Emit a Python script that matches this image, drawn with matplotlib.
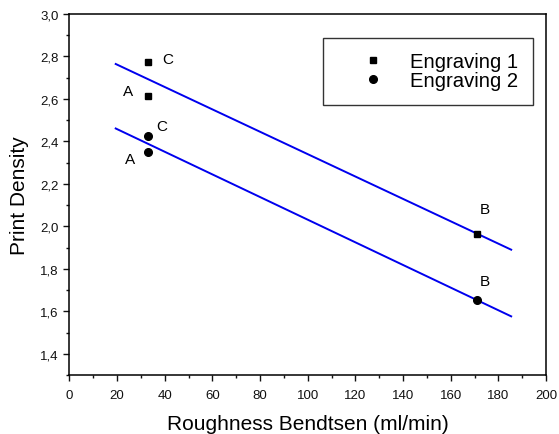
import numpy as np
import matplotlib
matplotlib.use("Agg")
import matplotlib.pyplot as plt
from matplotlib.ticker import MultipleLocator, FuncFormatter

plt.rcParams['font.family'] = ['Liberation Sans', 'DejaVu Sans']

# Data
roughness = [33, 33, 171]
labels = ["C", "A", "B"]
engraving1 = [2.773, 2.613, 1.966]
engraving2 = [2.427, 2.350, 1.653]
fit_range = [19.4, 185.4]
series_names = ["Engraving 1", "Engraving 2"]

fig = plt.figure(figsize=(5.59, 4.35), dpi=100)
ax = fig.add_axes([0.1243, 0.1356, 0.8524, 0.8299])

x = np.array(roughness, dtype=float)
xf = np.array(fit_range)
for vals in (engraving1, engraving2):
    p = np.polyfit(x, np.array(vals), 1)
    ax.plot(xf, np.polyval(p, xf), color='#0000ee', lw=1.4, zorder=2)

ax.plot(roughness, engraving1, 's', color='black', ms=5, ls='none', label=series_names[0], zorder=3)
ax.plot(roughness, engraving2, 'o', color='black', ms=5.5, ls='none', label=series_names[1], zorder=3)

# annotations (offsets in points)
off1 = {"C": (14.4, 2.2), "A": (-14.4, 3.6), "B": (5.8, 18)}
off2 = {"C": (10, 7.2), "A": (-13, -5), "B": (5.8, 13.7)}
for xi, yi, lab in zip(roughness, engraving1, labels):
    ax.annotate(lab, (xi, yi), xytext=off1[lab], textcoords='offset points',
                ha='center', va='center', fontsize=11)
for xi, yi, lab in zip(roughness, engraving2, labels):
    ax.annotate(lab, (xi, yi), xytext=off2[lab], textcoords='offset points',
                ha='center', va='center', fontsize=11)

ax.set_xlim(0, 200)
ax.set_ylim(1.3, 3.0)
ax.xaxis.set_major_locator(MultipleLocator(20))
ax.xaxis.set_minor_locator(MultipleLocator(10))
ax.yaxis.set_major_locator(MultipleLocator(0.2))
ax.yaxis.set_minor_locator(MultipleLocator(0.1))
ax.yaxis.set_major_formatter(FuncFormatter(lambda v, p: f"{v:.1f}".replace('.', ',')))
ax.tick_params(which='both', direction='out', top=False, right=False, labelsize=9.5, width=1, colors='#111111')
ax.tick_params(which='major', length=4.5)
ax.tick_params(which='minor', length=2.5)
ax.tick_params(axis='x', which='major', pad=5.5)
for s in ax.spines.values():
    s.set_linewidth(1.1)

ax.set_xlabel("Roughness Bendtsen (ml/min)", fontsize=15, labelpad=9.5)
ax.set_ylabel("Print Density", fontsize=15, labelpad=8)

leg = ax.legend(loc='upper right', bbox_to_anchor=(0.973, 0.934), fontsize=14.6,
                frameon=True, fancybox=False, edgecolor='black', handlelength=3.5,
                handletextpad=0.1, borderpad=0.72, labelspacing=0.0, borderaxespad=0)
leg.get_frame().set_linewidth(1)

fig.savefig("out.png", dpi=100)
